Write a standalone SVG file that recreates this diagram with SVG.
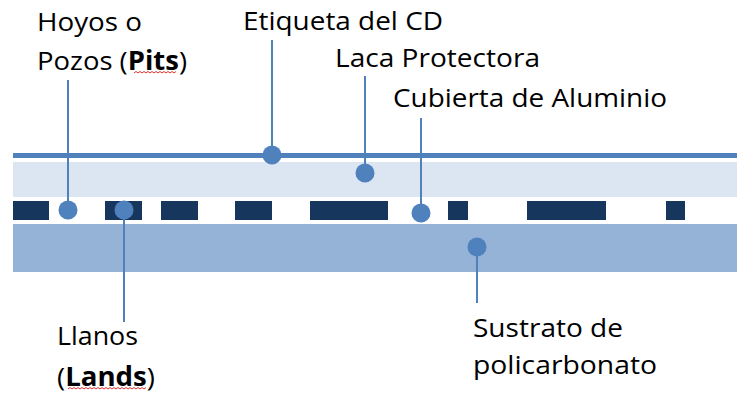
<svg xmlns="http://www.w3.org/2000/svg" width="754" height="400" viewBox="0 0 754 400">
<style>
.lbl{font-family:"Open Sans","Liberation Sans",sans-serif;font-size:26px;fill:#000}
.b{font-weight:bold}
.con{stroke:#4F81BD;stroke-width:2;fill:none}
.dot{fill:#4F81BD}
.pit{fill:#17365D}
.sq{stroke:#E03030;stroke-width:1;fill:none}
</style>
<rect width="754" height="400" fill="#fff"/>
<g id="layers">
<g id="etiqueta"><rect x="13" y="153" width="724" height="5" fill="#4F81BD"/></g>
<g id="laca"><rect x="13" y="162" width="724" height="35" fill="#DCE6F2"/></g>
<g id="aluminio">
<rect class="pit" x="13" y="201" width="36" height="19"/>
<rect class="pit" x="105" y="201" width="37" height="19"/>
<rect class="pit" x="161" y="201" width="37" height="19"/>
<rect class="pit" x="235" y="201" width="37" height="19"/>
<rect class="pit" x="310" y="201" width="78" height="19"/>
<rect class="pit" x="448" y="201" width="20" height="19"/>
<rect class="pit" x="527" y="201" width="79" height="19"/>
<rect class="pit" x="666" y="201" width="19" height="19"/>
</g>
<g id="sustrato"><rect x="13" y="224" width="724" height="48" fill="#95B3D7"/></g>
</g>
<g id="connectors">
<line class="con" x1="68" y1="80" x2="68" y2="210"/>
<circle class="dot" cx="68" cy="210" r="9.5"/>
<line class="con" x1="124" y1="210" x2="124" y2="322"/>
<circle class="dot" cx="124" cy="210" r="9.5"/>
<line class="con" x1="272" y1="40" x2="272" y2="155"/>
<circle class="dot" cx="272" cy="155" r="9.5"/>
<line class="con" x1="365" y1="76" x2="365" y2="173"/>
<circle class="dot" cx="365" cy="173" r="9.5"/>
<line class="con" x1="421" y1="118" x2="421" y2="213"/>
<circle class="dot" cx="421" cy="213" r="9.5"/>
<line class="con" x1="477" y1="247" x2="477" y2="303"/>
<circle class="dot" cx="477" cy="247" r="9.5"/>
</g>
<g id="label-pits">
<text class="lbl" x="37" y="31" textLength="105" lengthAdjust="spacingAndGlyphs">Hoyos o</text>
<text class="lbl" x="37" y="70" textLength="150" lengthAdjust="spacingAndGlyphs">Pozos (<tspan class="b">Pits</tspan>)</text>
<path class="sq" d="M134 73 l2 -1.5 l2 1.5 l2 -1.5 l2 1.5 l2 -1.5 l2 1.5 l2 -1.5 l2 1.5 l2 -1.5 l2 1.5 l2 -1.5 l2 1.5 l2 -1.5 l2 1.5 l2 -1.5 l2 1.5 l2 -1.5 l2 1.5 l2 -1.5 l2 1.5 l2 -1.5"/>
</g>
<g id="label-etiqueta"><text class="lbl" x="243" y="30" textLength="200" lengthAdjust="spacingAndGlyphs">Etiqueta del CD</text></g>
<g id="label-laca"><text class="lbl" x="335" y="67" textLength="205" lengthAdjust="spacingAndGlyphs">Laca Protectora</text></g>
<g id="label-aluminio"><text class="lbl" x="393" y="107" textLength="274" lengthAdjust="spacingAndGlyphs">Cubierta de Aluminio</text></g>
<g id="label-lands">
<text class="lbl" x="57" y="345" textLength="81" lengthAdjust="spacingAndGlyphs">Llanos</text>
<text class="lbl" x="57" y="386" textLength="98" lengthAdjust="spacingAndGlyphs">(<tspan class="b">Lands</tspan>)</text>
<path class="sq" d="M68 389 l2 -1.5 l2 1.5 l2 -1.5 l2 1.5 l2 -1.5 l2 1.5 l2 -1.5 l2 1.5 l2 -1.5 l2 1.5 l2 -1.5 l2 1.5 l2 -1.5 l2 1.5 l2 -1.5 l2 1.5 l2 -1.5 l2 1.5 l2 -1.5 l2 1.5 l2 -1.5 l2 1.5 l2 -1.5 l2 1.5 l2 -1.5 l2 1.5 l2 -1.5 l2 1.5 l2 -1.5 l2 1.5 l2 -1.5 l2 1.5 l2 -1.5 l2 1.5 l2 -1.5 l2 1.5 l2 -1.5 l2 1.5 l2 -1.5"/>
</g>
<g id="label-sustrato">
<text class="lbl" x="473" y="337" textLength="150" lengthAdjust="spacingAndGlyphs">Sustrato de</text>
<text class="lbl" x="473" y="374" textLength="184" lengthAdjust="spacingAndGlyphs">policarbonato</text>
</g>
</svg>
